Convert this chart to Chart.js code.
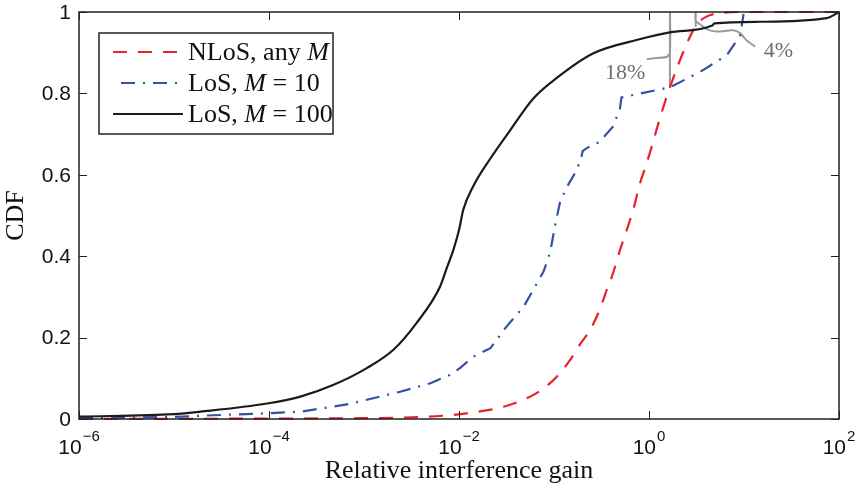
<!DOCTYPE html>
<html><head><meta charset="utf-8">
<script src="https://cdn.jsdelivr.net/npm/chart.js@4"></script>
<style>html,body{margin:0;padding:0;background:#fff;}canvas{display:block;}</style>
</head><body>
<canvas id="c" width="858" height="489"></canvas>
<script>
// ---- tick labels ----
const xTickValues = [1e-6, 1e-4, 1e-2, 1, 100];
const xTickExponents = ['\u22126', '\u22124', '\u22122', '0', '2'];
const yTickValues = [0, 0.2, 0.4, 0.6, 0.8, 1];
const yTickLabels = ['0', '0.2', '0.4', '0.6', '0.8', '1'];
const xAxisTitle = 'Relative interference gain';
const yAxisTitle = 'CDF';

// ---- series (x = relative interference gain, y = CDF) ----
const nlosX = [1e-6, 1e-4, 1e-3, 3.16e-3, 6.84e-3, 1.2e-2, 2.95e-2, 5.62e-2, 7.76e-2, 0.107, 0.148, 0.186, 0.24, 0.302, 0.359, 0.421, 0.495, 0.582, 0.684, 0.804, 0.944, 1.04, 1.35, 1.66, 2.51, 3.16, 3.98, 6.03, 10, 100];
const nlosY = [0.0, 0.001, 0.002, 0.004, 0.008, 0.014, 0.03, 0.055, 0.075, 0.104, 0.145, 0.182, 0.219, 0.268, 0.317, 0.36, 0.415, 0.464, 0.515, 0.579, 0.628, 0.66, 0.751, 0.815, 0.923, 0.968, 0.988, 0.998, 1.0, 1.0];

const los10X = [1e-6, 1e-5, 1.905e-5, 9.55e-5, 2.14e-4, 7.08e-4, 2.4e-3, 5.01e-3, 7.94e-3, 1.023e-2, 1.413e-2, 2.14e-2, 3.16e-2, 4.79e-2, 6.03e-2, 7.76e-2, 9.12e-2, 0.102, 0.115, 0.135, 0.174, 0.195, 0.2, 0.219, 0.302, 0.417, 0.495, 0.513, 1.66, 3.47, 6.61, 9.12, 9.9];
const los10Y = [0.002, 0.005, 0.008, 0.014, 0.018, 0.037, 0.067, 0.088, 0.108, 0.125, 0.153, 0.174, 0.227, 0.276, 0.317, 0.362, 0.41, 0.472, 0.53, 0.568, 0.612, 0.645, 0.658, 0.665, 0.681, 0.718, 0.763, 0.79, 0.815, 0.853, 0.894, 0.943, 0.995];

const los100X = [1e-6, 1e-5, 1.905e-5, 9.55e-5, 2.14e-4, 4.79e-4, 1.07e-3, 2.04e-3, 3.55e-3, 6.31e-3, 7.41e-3, 8.71e-3, 9.77e-3, 1.023e-2, 1.109e-2, 1.413e-2, 2.14e-2, 3.47e-2, 6.03e-2, 0.107, 0.257, 0.794, 1.66, 4.57, 4.9, 14.8, 74.1, 100];
const los100Y = [0.006, 0.012, 0.018, 0.038, 0.055, 0.084, 0.125, 0.17, 0.235, 0.325, 0.37, 0.415, 0.455, 0.475, 0.514, 0.572, 0.64, 0.71, 0.787, 0.838, 0.898, 0.933, 0.95, 0.966, 0.972, 0.976, 0.985, 1.0];

// ---- annotations (gray pointers and their labels) ----
const gap18X = [1.66, 1.66, 1.66, 1.55, 1.2, 0.95];
const gap18Y = [0.815, 1.0, 0.902, 0.89, 0.887, 0.884];
const gap4X = [3.1, 3.1, 3.1, 3.44, 4.05, 5.15, 7.71, 9.08, 10.7, 13.1];
const gap4Y = [0.964, 1.0, 0.978, 0.97, 0.958, 0.952, 0.955, 0.948, 0.93, 0.915];
const annLabels = ['18%', '4%'];
const annLabelX = [0.56, 23];
const annLabelY = [0.853, 0.907];

// ---- legend text (segments: [text, italic?]) ----
const legendLabels = [
  [['NLoS, any ', false], ['M', true]],
  [['LoS, ', false], ['M', true], [' = 10', false]],
  [['LoS, ', false], ['M', true], [' = 100', false]]
];

const toPts = (xs, ys) => xs.map((x, i) => ({x: x, y: ys[i]}));

const RED = '#e8212b', BLUE = '#3352a3', BLACK = '#1b1b1b', GRAY = '#9a9a9a';
const SANS = '"Liberation Sans", Arial, sans-serif';
const SERIF = '"Liberation Serif", "Times New Roman", serif';

const decor = {
  id: 'decor',
  afterDatasetsDraw(chart) {
    const ctx = chart.ctx, xs = chart.scales.x, ys = chart.scales.y, a = chart.chartArea;
    ctx.save();
    // frame
    ctx.strokeStyle = '#222'; ctx.lineWidth = 1.5;
    ctx.strokeRect(a.left, a.top, a.right - a.left, a.bottom - a.top);
    // inward ticks
    ctx.lineWidth = 1;
    const TL = 8;
    xTickValues.forEach(v => {
      const px = Math.round(xs.getPixelForValue(v)) + 0.5;
      ctx.beginPath();
      ctx.moveTo(px, a.bottom); ctx.lineTo(px, a.bottom - TL);
      ctx.moveTo(px, a.top); ctx.lineTo(px, a.top + TL);
      ctx.stroke();
    });
    yTickValues.forEach(v => {
      const py = Math.round(ys.getPixelForValue(v)) + 0.5;
      ctx.beginPath();
      ctx.moveTo(a.left, py); ctx.lineTo(a.left + TL, py);
      ctx.moveTo(a.right, py); ctx.lineTo(a.right - TL, py);
      ctx.stroke();
    });
    // y tick labels
    ctx.fillStyle = '#111';
    ctx.font = '21px ' + SANS;
    ctx.textAlign = 'right'; ctx.textBaseline = 'middle';
    yTickValues.forEach((v, i) => {
      ctx.fillText(yTickLabels[i], a.left - 8, ys.getPixelForValue(v) + 1);
    });
    // x tick labels: 10^e
    ctx.textBaseline = 'alphabetic'; ctx.textAlign = 'left';
    xTickValues.forEach((v, i) => {
      ctx.font = '21px ' + SANS;
      const wb = ctx.measureText('10').width;
      ctx.font = '15px ' + SANS;
      const we = ctx.measureText(xTickExponents[i]).width;
      const px = xs.getPixelForValue(v);
      const x0 = px - (wb + we + 1) / 2;
      ctx.font = '21px ' + SANS;
      ctx.fillText('10', x0, 454);
      ctx.font = '15px ' + SANS;
      ctx.fillText(xTickExponents[i], x0 + wb + 1, 441);
    });
    // axis titles
    ctx.font = '26px ' + SERIF;
    ctx.textAlign = 'center'; ctx.textBaseline = 'middle';
    ctx.fillText(xAxisTitle, (a.left + a.right) / 2, 471);
    ctx.save();
    ctx.translate(16, (a.top + a.bottom) / 2);
    ctx.rotate(-Math.PI / 2);
    ctx.fillText(yAxisTitle, 0, 0);
    ctx.restore();
    // annotation labels
    ctx.fillStyle = '#6e6e6e';
    ctx.font = '22px ' + SERIF;
    annLabels.forEach((t, i) => {
      ctx.fillText(t, xs.getPixelForValue(annLabelX[i]), ys.getPixelForValue(annLabelY[i]) + 1);
    });
    // legend
    const bx = 99, by = 33, bw = 234, bh = 101;
    ctx.fillStyle = '#fff';
    ctx.fillRect(bx, by, bw, bh);
    ctx.strokeStyle = '#222'; ctx.lineWidth = 1.5;
    ctx.strokeRect(bx, by, bw, bh);
    const rows = [52, 83, 114];
    [0, 1, 2].forEach((di, r) => {
      const ds = chart.data.datasets[di];
      ctx.save();
      ctx.strokeStyle = ds.borderColor; ctx.lineWidth = ds.borderWidth;
      ctx.setLineDash(ds.borderDash || []);
      ctx.lineDashOffset = ds.legendDashOffset || 0;
      ctx.beginPath(); ctx.moveTo(113, rows[r]); ctx.lineTo(183, rows[r]); ctx.stroke();
      ctx.restore();
      let tx = 188;
      ctx.fillStyle = '#111'; ctx.textAlign = 'left'; ctx.textBaseline = 'middle';
      legendLabels[r].forEach(seg => {
        ctx.font = (seg[1] ? 'italic ' : '') + '26px ' + SERIF;
        ctx.fillText(seg[0], tx, rows[r] + 1);
        tx += ctx.measureText(seg[0]).width;
      });
    });
    ctx.restore();
  }
};

new Chart(document.getElementById('c'), {
  type: 'line',
  data: {
    datasets: [
      {label: 'NLoS, any M', data: toPts(nlosX, nlosY), borderColor: RED, borderWidth: 2.2, borderDash: [14, 11], cubicInterpolationMode: 'monotone', order: 3},
      {label: 'LoS, M = 10', data: toPts(los10X, los10Y), borderColor: BLUE, borderWidth: 2.2, borderDash: [14, 8, 2, 8], legendDashOffset: 24, order: 2},
      {label: 'LoS, M = 100', data: toPts(los100X, los100Y), borderColor: BLACK, borderWidth: 2.2, cubicInterpolationMode: 'monotone', order: 1},
      {label: 'gap18', data: toPts(gap18X, gap18Y), borderColor: GRAY, borderWidth: 2, tension: 0.3, order: 5},
      {label: 'gap4', data: toPts(gap4X, gap4Y), borderColor: GRAY, borderWidth: 2, tension: 0.3, order: 5}
    ]
  },
  options: {
    responsive: false, animation: false,
    layout: {padding: {top: 12, right: 19, left: 0, bottom: 0}},
    elements: {point: {radius: 0, hoverRadius: 0}},
    datasets: {line: {clip: false, fill: false}},
    plugins: {legend: {display: false}, tooltip: {enabled: false}},
    scales: {
      x: {type: 'logarithmic', min: 1e-6, max: 100,
          ticks: {display: false}, grid: {display: false}, border: {display: false},
          afterFit: s => { s.height = 70; }},
      y: {type: 'linear', min: 0, max: 1,
          ticks: {display: false}, grid: {display: false}, border: {display: false},
          afterFit: s => { s.width = 79; }}
    }
  },
  plugins: [decor]
});
</script>
</body></html>
